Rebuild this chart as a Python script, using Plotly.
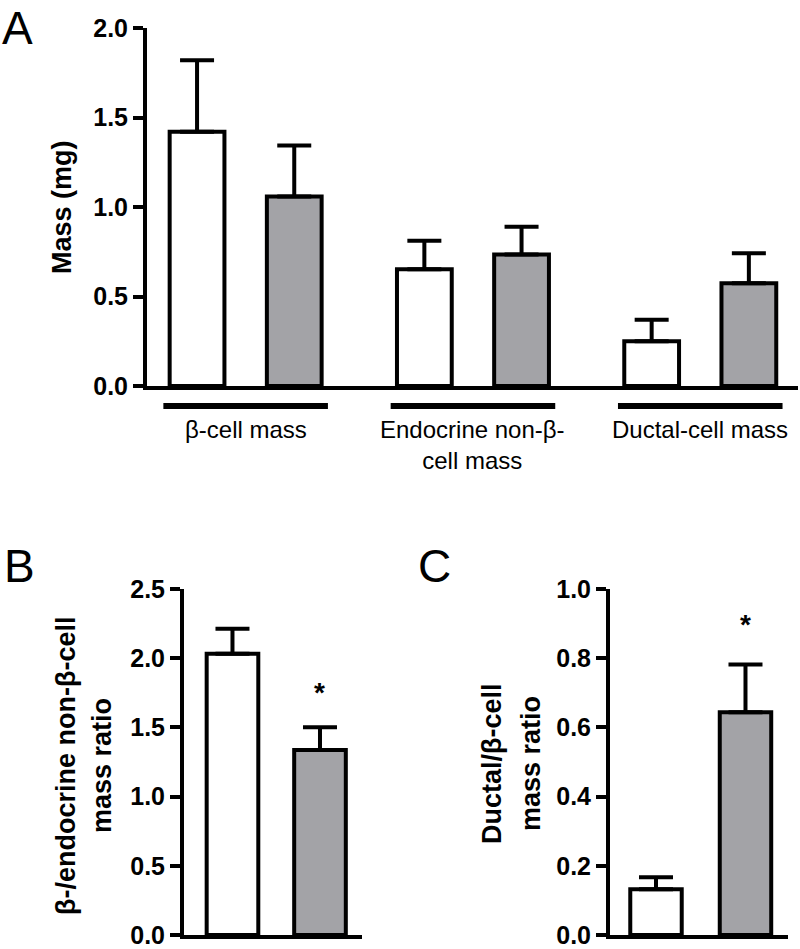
import plotly.graph_objects as go

W, H = 800, 949

# ---------------- data ----------------
categories_A = ["β-cell mass", "Endocrine non-β-<br>cell mass", "Ductal-cell mass"]
control_A = [1.42, 0.652, 0.25]
control_A_sem = [0.40, 0.16, 0.12]
treated_A = [1.058, 0.735, 0.574]
treated_A_sem = [0.285, 0.155, 0.167]

ratio_B = [2.033, 1.336]
ratio_B_sem = [0.18, 0.165]
ratio_C = [0.132, 0.644]
ratio_C_sem = [0.035, 0.138]

yticks_A = [0.0, 0.5, 1.0, 1.5, 2.0]
yticks_B = [0.0, 0.5, 1.0, 1.5, 2.0, 2.5]
yticks_C = [0.0, 0.2, 0.4, 0.6, 0.8, 1.0]

ytitle_A = "Mass (mg)"
ytitle_B = ["β-/endocrine non-β-cell", "mass ratio"]
ytitle_C = ["Ductal/β-cell", "mass ratio"]
signif_B = [False, True]
signif_C = [False, True]

# ---------------- styles ----------------
FONT = "Liberation Sans, Arial, sans-serif"
GRAY = "#a3a3a7"
LW = 4


def px(xp):
    return xp / W


def py(yp):
    return 1 - yp / H


def bar(x, y, sem, fill, xa, ya, width):
    return go.Bar(
        x=x, y=y, width=width, xaxis=xa, yaxis=ya,
        marker=dict(color=fill, line=dict(color="black", width=LW)),
        error_y=dict(type="data", array=sem, arrayminus=[0] * len(sem),
                     symmetric=False, color="black", thickness=LW, width=17),
        showlegend=False, hoverinfo="skip",
    )


groups = list(range(len(categories_A)))
off = 0.2138
fig = go.Figure()
fig.add_trace(bar([g - off for g in groups], control_A, control_A_sem, "white", "x", "y", 0.241))
fig.add_trace(bar([g + off for g in groups], treated_A, treated_A_sem, GRAY, "x", "y", 0.241))
fig.add_trace(bar([0], ratio_B[:1], ratio_B_sem[:1], "white", "x2", "y2", 0.59))
fig.add_trace(bar([1], ratio_B[1:], ratio_B_sem[1:], GRAY, "x2", "y2", 0.59))
fig.add_trace(bar([0], ratio_C[:1], ratio_C_sem[:1], "white", "x3", "y3", 0.575))
fig.add_trace(bar([1], ratio_C[1:], ratio_C_sem[1:], GRAY, "x3", "y3", 0.575))

xcommon = dict(showline=True, linewidth=LW, linecolor="black", showticklabels=False,
               ticks="", showgrid=False, zeroline=False, fixedrange=True, automargin=False)
ycommon = dict(showline=True, linewidth=LW, linecolor="black", ticks="outside", ticklen=10,
               tickwidth=LW, tickcolor="black", showgrid=False, zeroline=False, tickformat=".1f",
               tickfont=dict(family=FONT, size=25, color="black", weight="bold"),
               fixedrange=True, automargin=False)

fig.update_layout(
    template="none",
    width=W, height=H, margin=dict(l=0, r=0, t=0, b=0, pad=0), autosize=False,
    paper_bgcolor="white", plot_bgcolor="white", barmode="overlay",
    showlegend=False,
    xaxis=dict(domain=[px(147), px(798)], range=[-0.434, 2.430], anchor="y", **xcommon),
    yaxis=dict(domain=[py(386), py(28)], range=[0, 2.0], tickvals=yticks_A, anchor="x", **ycommon),
    xaxis2=dict(domain=[px(184), px(362)], range=[-0.554, 1.48], anchor="y2", **xcommon),
    yaxis2=dict(domain=[py(935), py(589)], range=[0, 2.5], tickvals=yticks_B, anchor="x2", **ycommon),
    xaxis3=dict(domain=[px(610), px(788)], range=[-0.514, 1.475], anchor="y3", **xcommon),
    yaxis3=dict(domain=[py(935), py(589)], range=[0, 1.0], tickvals=yticks_C, anchor="x3", **ycommon),
)

ann = []
# panel letters
ann.append(dict(text="A", x=0, y=1, xref="paper", yref="paper", xanchor="left", yanchor="top",
                showarrow=False, font=dict(family=FONT, size=46, color="black")))
for letter, xp, yp in [("B", 2, 566), ("C", 416, 566)]:
    ann.append(dict(text=letter, x=px(xp), y=py(yp), xref="paper", yref="paper",
                    xanchor="left", yanchor="middle", showarrow=False,
                    font=dict(family=FONT, size=46, color="black")))
# y titles
tfont = dict(family=FONT, size=27, color="black", weight="bold")
ann.append(dict(text=ytitle_A, x=px(62), y=py(207), xref="paper", yref="paper", textangle=-90,
                xanchor="center", yanchor="middle", showarrow=False, font=tfont))
for line, xp in zip(ytitle_B, [66, 102]):
    ann.append(dict(text=line, x=px(xp), y=py(766), xref="paper", yref="paper", textangle=-90,
                    xanchor="center", yanchor="middle", showarrow=False, font=tfont))
for line, xp in zip(ytitle_C, [492, 531]):
    ann.append(dict(text=line, x=px(xp), y=py(764), xref="paper", yref="paper", textangle=-90,
                    xanchor="center", yanchor="middle", showarrow=False, font=tfont))
# category labels
for g, lab in zip(groups, categories_A):
    ann.append(dict(text=lab, x=g, y=py(414), xref="x", yref="paper", xanchor="center",
                    yanchor="top", showarrow=False,
                    font=dict(family=FONT, size=24, color="black")))
# significance stars
sfont = dict(family=FONT, size=28, color="black", weight="bold")
for i, s in enumerate(signif_B):
    if s:
        ann.append(dict(text="*", x=i, y=ratio_B[i] + ratio_B_sem[i] + 0.25, xref="x2", yref="y2",
                        xanchor="center", yanchor="middle", showarrow=False, font=sfont))
for i, s in enumerate(signif_C):
    if s:
        ann.append(dict(text="*", x=i, y=ratio_C[i] + ratio_C_sem[i] + 0.115, xref="x3", yref="y3",
                        xanchor="center", yanchor="middle", showarrow=False, font=sfont))
fig.update_layout(annotations=ann)

# group underlines
shapes = []
for g in groups:
    shapes.append(dict(type="line", xref="x", yref="paper", x0=g - 0.362, x1=g + 0.362,
                       y0=py(406), y1=py(406), line=dict(color="black", width=6)))
fig.update_layout(shapes=shapes)

fig.write_html("out.html", config={"displayModeBar": False},
               post_script="document.body.style.margin='0';document.body.style.overflow='hidden';")
